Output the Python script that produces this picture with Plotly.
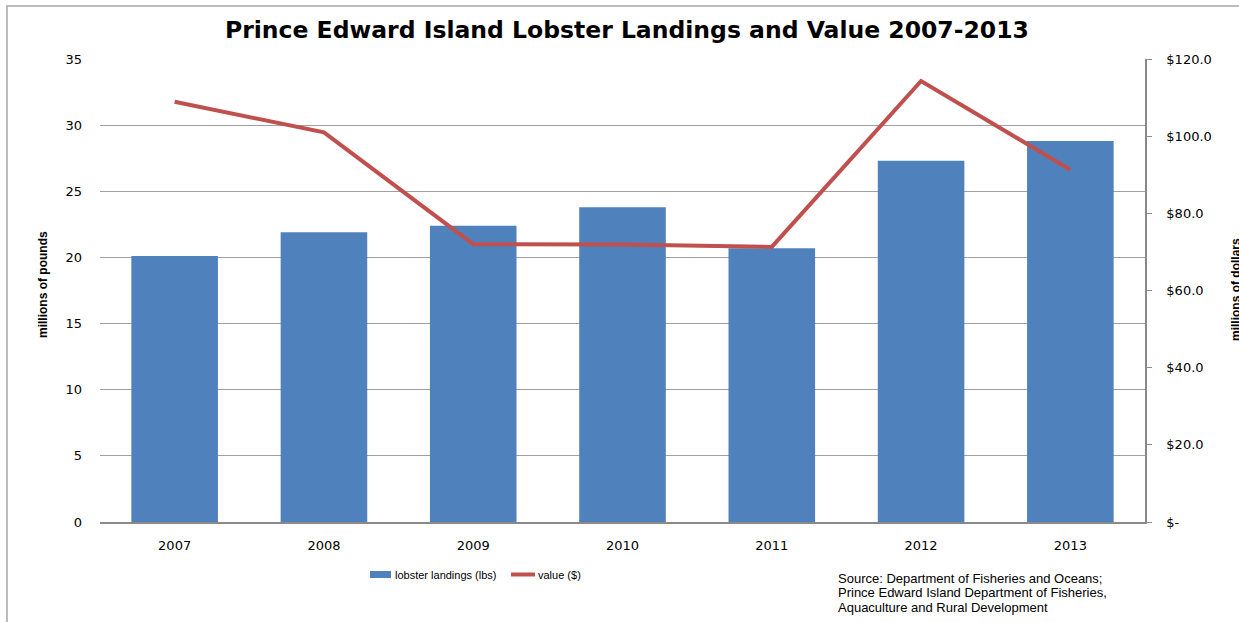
import plotly.graph_objects as go

years = ["2007", "2008", "2009", "2010", "2011", "2012", "2013"]
landings = [20.1, 21.9, 22.4, 23.8, 20.7, 27.3, 28.8]
value = [108.9, 101.0, 72.0, 71.9, 71.3, 114.3, 91.3]

left_ticks = [0, 5, 10, 15, 20, 25, 30, 35]
right_ticks = [0, 20, 40, 60, 80, 100, 120]
right_labels = ["$-", "$20.0", "$40.0", "$60.0", "$80.0", "$100.0", "$120.0"]

source_lines = ["Source: Department of Fisheries and Oceans;",
                "Prince Edward Island Department of Fisheries,",
                "Aquaculture and Rural Development"]

tick_font = dict(family="DejaVu Sans, Verdana, sans-serif", size=13, color="#000000")
narrow = "Liberation Sans Narrow, Arial Narrow, Liberation Sans, sans-serif"

fig = go.Figure()
fig.add_trace(go.Bar(x=years, y=landings, name="lobster landings (lbs)",
                     marker=dict(color="#4F81BD", line=dict(width=0)), width=0.58,
                     yaxis="y"))
fig.add_trace(go.Scatter(x=years, y=value, name="value ($)", mode="lines",
                         line=dict(color="#C0504D", width=4), yaxis="y2"))

fig.update_layout(
    width=1239, height=622,
    paper_bgcolor="white", plot_bgcolor="white",
    margin=dict(l=100, r=94, t=59, b=100),
    showlegend=False,
    title=dict(text="<b>Prince Edward Island Lobster Landings and Value 2007-2013</b>",
               x=0.506, xanchor="center", y=0.952, yanchor="middle",
               font=dict(family="DejaVu Sans, Verdana, sans-serif", size=23.5, color="#000")),
    xaxis=dict(type="category", showgrid=False, showline=True, linecolor="#898989",
               linewidth=1.5, ticks="", tickfont=tick_font, ticklabelstandoff=11),
    yaxis=dict(range=[0, 35], tickvals=left_ticks, showgrid=True, gridcolor="#a0a0a0",
               gridwidth=1.2, showline=False, zeroline=False, tickfont=tick_font,
               ticks="", ticklabelstandoff=17),
    yaxis2=dict(range=[0, 120], tickvals=right_ticks, ticktext=right_labels,
                overlaying="y", side="right", showgrid=False, zeroline=False,
                showline=True, linecolor="#898989", linewidth=1.5,
                ticks="outside", ticklen=5, tickcolor="#898989", tickfont=tick_font,
                ticklabelstandoff=12),
)

pw, ph = 1239 - 100 - 94, 622 - 59 - 100
def px(xp):
    return (xp - 100) / pw
def py(yp):
    return 1 - (yp - 59) / ph

anns = [
    dict(text="<b>millions of pounds</b>", x=43, y=285, textangle=-90, xanchor="center",
         font=dict(family=narrow, size=12, color="#000")),
    dict(text="<b>millions of dollars</b>", x=1236, y=290, textangle=-90, xanchor="center",
         font=dict(family=narrow, size=12, color="#000")),
    dict(text="lobster landings (lbs)", x=393, y=575, xanchor="left",
         font=dict(family=narrow, size=11, color="#000")),
    dict(text="value ($)", x=536, y=575, xanchor="left",
         font=dict(family=narrow, size=11, color="#000")),
]
for i, line in enumerate(source_lines):
    anns.append(dict(text=line, x=836, y=578 + 14.5 * i, xanchor="left",
                     font=dict(family=narrow, size=13, color="#000")))
for a in anns:
    a["x"] = px(a["x"])
    a["y"] = py(a["y"])
    a["xref"] = "paper"; a["yref"] = "paper"; a["showarrow"] = False
    a["yanchor"] = "middle"
fig.update_layout(annotations=anns)

shapes = [
    dict(type="rect", xref="paper", yref="paper", x0=px(370), x1=px(391), y0=py(578), y1=py(571),
         fillcolor="#4F81BD", line=dict(width=0)),
    dict(type="line", xref="paper", yref="paper", x0=px(511), x1=px(535), y0=py(574.5), y1=py(574.5),
         line=dict(color="#C0504D", width=4)),
    dict(type="rect", xref="paper", yref="paper", x0=px(7), x1=px(1250), y0=py(6), y1=py(640),
         line=dict(color="#A6A6A6", width=1.5), fillcolor="rgba(0,0,0,0)", layer="below"),
]
fig.update_layout(shapes=shapes)

fig.write_html("out.html", config={"displayModeBar": False},
               post_script="document.body.style.margin='0';document.body.style.padding='0';")
